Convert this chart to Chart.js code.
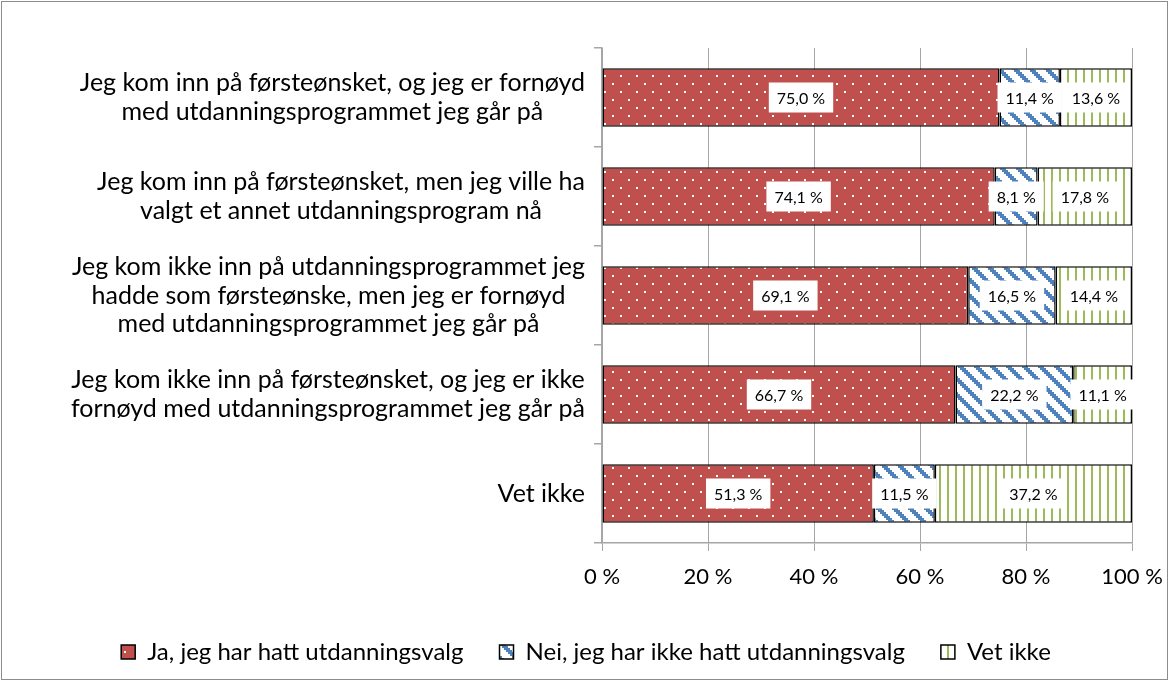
<!DOCTYPE html>
<html>
<head>
<meta charset="utf-8">
<script src="https://cdn.jsdelivr.net/npm/chart.js@4.4.1/dist/chart.umd.min.js"></script>
<style>
  html, body { margin: 0; padding: 0; background: #fff; }
  #wrap { position: relative; width: 1170px; height: 682px; }
  #frame { position: absolute; left: 1px; top: 1px; width: 1165px; height: 677px; border: 1px solid #8c8c8c; pointer-events: none; }
</style>
</head>
<body>
<div id="wrap">
  <canvas id="chart" width="1170" height="682"></canvas>
  <div id="frame"></div>
</div>
<script>
// svarkategorier (y-aksen), hver linje for seg
const categories = [
  ["Jeg kom inn på førsteønsket, og jeg er fornøyd", "med utdanningsprogrammet jeg går på"],
  ["Jeg kom inn på førsteønsket, men jeg ville ha", "valgt et annet utdanningsprogram nå"],
  ["Jeg kom ikke inn på utdanningsprogrammet jeg", "hadde som førsteønske, men jeg er fornøyd", "med utdanningsprogrammet jeg går på"],
  ["Jeg kom ikke inn på førsteønsket, og jeg er ikke", "fornøyd med utdanningsprogrammet jeg går på"],
  ["Vet ikke"],
];
const seriesNames = ["Ja, jeg har hatt utdanningsvalg", "Nei, jeg har ikke hatt utdanningsvalg", "Vet ikke"];
const jaValues = [75.0, 74.1, 69.1, 66.7, 51.3];
const neiValues = [11.4, 8.1, 16.5, 22.2, 11.5];
const vetIkkeValues = [13.6, 17.8, 14.4, 11.1, 37.2];
const xTickValues = [0, 20, 40, 60, 80, 100];

const FONT = "Lato, 'Open Sans', sans-serif";

function pct(v) {
  return v.toFixed(1).replace(".", ",") + " %";
}

// Excel-lignende mønstre (tegnet i 2x skala)
function makePattern(w, h, paint) {
  const c = document.createElement("canvas");
  c.width = w; c.height = h;
  const g = c.getContext("2d");
  paint(g);
  return g.createPattern(c, "repeat");
}
const redDots = makePattern(16, 16, (g) => {
  g.fillStyle = "#c0504d"; g.fillRect(0, 0, 16, 16);
  g.fillStyle = "#fff"; g.fillRect(4, 3, 2, 2); g.fillRect(12, 11, 2, 2);
});
const blueDiag = makePattern(16, 16, (g) => {
  g.fillStyle = "#fff"; g.fillRect(0, 0, 16, 16);
  g.fillStyle = "#4f81bd";
  for (let r = 0; r < 8; r++) {
    for (let k = 0; k < 3; k++) g.fillRect(((r + k) % 8) * 2, r * 2, 2, 2);
  }
});
const greenVert = makePattern(8, 8, (g) => {
  g.fillStyle = "#fff"; g.fillRect(0, 0, 8, 8);
  g.fillStyle = "#9bbb59"; g.fillRect(3, 0, 2, 8);
});

// hvite etikettbokser midt i hvert segment
const barLabels = {
  id: "barLabels",
  afterDatasetsDraw(chart) {
    const ctx = chart.ctx;
    ctx.save();
    ctx.font = "16px " + FONT;
    ctx.textAlign = "center";
    ctx.textBaseline = "middle";
    chart.data.datasets.forEach((ds, i) => {
      chart.getDatasetMeta(i).data.forEach((bar, j) => {
        const { x, base, y } = bar.getProps(["x", "base", "y"], true);
        const txt = pct(ds.data[j]);
        const w = ctx.measureText(txt).width + 16;
        const cx = (x + base) / 2;
        ctx.fillStyle = "#fff";
        ctx.fillRect(cx - w / 2, y - 15, w, 30);
        ctx.fillStyle = "#000";
        ctx.fillText(txt, cx, y + 1);
      });
    });
    ctx.restore();
  },
};

// kategoritekst: blokken høyrejustert, linjene sentrert i blokken
const categoryLabels = {
  id: "categoryLabels",
  afterDraw(chart) {
    const ctx = chart.ctx;
    const yScale = chart.scales.y;
    const right = chart.chartArea.left - 17;
    const lh = 28.5;
    ctx.save();
    ctx.font = "25px " + FONT;
    ctx.fillStyle = "#000";
    ctx.textAlign = "center";
    ctx.textBaseline = "middle";
    categories.forEach((lines, i) => {
      const blockW = Math.max(...lines.map((l) => ctx.measureText(l).width));
      const cx = right - blockW / 2;
      const cy = yScale.getPixelForTick(i);
      lines.forEach((l, k) => {
        ctx.fillText(l, cx, cy + (k - (lines.length - 1) / 2) * lh);
      });
    });
    ctx.restore();
  },
};

const common = { borderColor: "#000", borderWidth: 1.5, borderSkipped: false };

new Chart(document.getElementById("chart"), {
  type: "bar",
  data: {
    labels: categories,
    datasets: [
      { label: seriesNames[0], data: jaValues, backgroundColor: redDots, ...common },
      { label: seriesNames[1], data: neiValues, backgroundColor: blueDiag, ...common },
      { label: seriesNames[2], data: vetIkkeValues, backgroundColor: greenVert, ...common },
    ],
  },
  options: {
    indexAxis: "y",
    responsive: false,
    animation: false,
    layout: { padding: { left: 40, right: 38, top: 48, bottom: 8 } },
    datasets: { bar: { categoryPercentage: 1, barPercentage: 0.59 } },
    scales: {
      x: {
        stacked: true,
        min: 0,
        max: 100,
        afterBuildTicks: (scale) => { scale.ticks = xTickValues.map((v) => ({ value: v })); },
        afterFit: (scale) => { scale.height = 61; scale.paddingRight = 0; scale.paddingLeft = 0; },
        ticks: { color: "#000", font: { family: FONT, size: 22 }, padding: 13, callback: (v) => v + " %", maxRotation: 0 },
        grid: { color: "#a6a6a6", lineWidth: 1, tickLength: 8 },
        border: { color: "#a6a6a6", width: 1.5 },
      },
      y: {
        stacked: true,
        afterFit: (scale) => { scale.width = 562; },
        ticks: { display: false },
        grid: { drawOnChartArea: false, color: "#a6a6a6", lineWidth: 1.5, tickLength: 8, offset: true },
        border: { color: "#a6a6a6", width: 1.5 },
      },
    },
    plugins: {
      legend: {
        position: "bottom",
        labels: { color: "#000", font: { family: FONT, size: 24 }, boxWidth: 14, boxHeight: 14, padding: 36 },
      },
      tooltip: { enabled: false },
    },
  },
  plugins: [barLabels, categoryLabels],
});
</script>
</body>
</html>
